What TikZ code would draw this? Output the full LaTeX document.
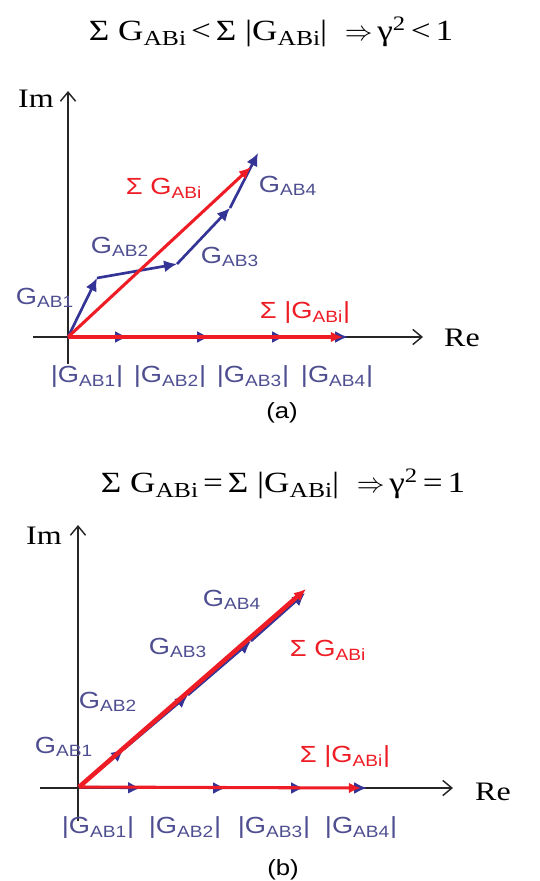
\documentclass[tikz,border=0pt]{standalone}
\usepackage{fontspec}
\setmainfont[FakeStretch=1.2]{Liberation Serif}
\setsansfont[FakeStretch=1.17]{Liberation Sans}
\usetikzlibrary{arrows.meta}
\usetikzlibrary{positioning}

\definecolor{vecblue}{RGB}{52,52,150}
\definecolor{txtblue}{RGB}{78,78,145}
\definecolor{vecred}{RGB}{238,28,36}

\newcommand{\gab}[1]{G\textsubscript{AB#1}}
\newcommand{\eqsub}[1]{\raisebox{-0.35ex}{\fontsize{16}{18}\selectfont #1}}

\tikzset{
  axis/.style={draw=black!85, line width=1.1pt, -{Straight Barb[length=2.4mm,width=4mm]}},
  bluevec/.style={draw=vecblue, line width=2pt, -{Latex[length=3.4mm,width=3.2mm]}},
  redvec/.style={draw=vecred, line width=2.3pt, -{Latex[length=3.2mm,width=2.8mm]}},
  bluelbl/.style={text=txtblue, font=\sffamily\fontsize{17.5}{20}\selectfont, inner sep=0pt},
  redlbl/.style={text=vecred, font=\sffamily\fontsize{17.5}{20}\selectfont, inner sep=0pt},
  axlbl/.style={font=\fontsize{20}{24}\selectfont, inner sep=0pt},
  eqn/.style={font=\fontsize{22}{26}\selectfont, inner sep=0pt},
  capt/.style={font=\sffamily\fontsize{16.5}{19}\selectfont, inner sep=0pt},
}

\begin{document}
\begin{tikzpicture}[x=0.75pt,y=-0.75pt]
\useasboundingbox (0,0) rectangle (539,881);

% ---- (a) ----
\node[eqn] (eqa) at (271,32) {Σ G\eqsub{ABi}\,<\,Σ |G\eqsub{ABi}|~~$\Rightarrow$\,γ\textsuperscript{2}\,<\,1};

\begin{scope}
    \coordinate (oa) at (68,337);
    \coordinate (xa0) at (33,337);
    \coordinate (xa1) at (423,337);
    \coordinate (ya0) at (68,364);
    \coordinate (ya1) at (68,91);
    \coordinate (pa1) at (97,278);
    \coordinate (pa2) at (177,264);
    \coordinate (pa3) at (230,208);
    \coordinate (pa4) at (258,153);
    \coordinate (sa) at (251,167);
    \coordinate (ha1) at (128,337);
    \coordinate (ha2) at (210,337);
    \coordinate (ha3) at (285,337);
    \coordinate (ha4) at (348,337);
    \coordinate (ta) at (343,337);
\end{scope}

\draw[axis] (xa0) -- (xa1);
\draw[axis] (ya0) -- (ya1);
\node[axlbl] (ima) at (36,99) {Im};
\node[axlbl] (rea) at (462,338) {Re};

\foreach \u/\v in {oa/ha1, ha1/ha2, ha2/ha3, ha3/ha4, oa/pa1, pa1/pa2, pa2/pa3, pa3/pa4}
    \path (\u) edge[bluevec] (\v);
\foreach \u/\v in {oa/sa, oa/ta}
    \path (\u) edge[redvec] (\v);

\begin{scope}[every node/.style={bluelbl}]
    \node (ga1) at (45,298) {\gab{1}};
    \node (ga2) at (120,247) {\gab{2}};
    \node (ga3) at (230,257) {\gab{3}};
    \node (ga4) at (288,186) {\gab{4}};
    \node (ma1) at (87,377) {|\gab{1}|};
    \node (ma2) at (170,377) {|\gab{2}|};
    \node (ma3) at (253,377) {|\gab{3}|};
    \node (ma4) at (337,377) {|\gab{4}|};
\end{scope}
\node[redlbl] (suma) at (164,188) {Σ G\textsubscript{ABi}};
\node[redlbl] (absa) at (305,313) {Σ |G\textsubscript{ABi}|};
\node[capt] (capa) at (282,413) {(a)};

% ---- (b) ----
\node[eqn] (eqb) at (283,484) {Σ G\eqsub{ABi}\,=\,Σ |G\eqsub{ABi}|~~$\Rightarrow$\,γ\textsuperscript{2}\,=\,1};

\begin{scope}
    \coordinate (ob) at (79,787);
    \coordinate (xb0) at (40,788);
    \coordinate (xb1) at (453,788);
    \coordinate (yb0) at (78,821);
    \coordinate (yb1) at (78,525);
    \coordinate (pb1) at (124,749);
    \coordinate (pb2) at (188,695);
    \coordinate (pb3) at (251,641);
    \coordinate (pb4) at (305,593);
    \coordinate (sb) at (306,589);
    \coordinate (hb1) at (141,788);
    \coordinate (hb2) at (226,788);
    \coordinate (hb3) at (304,788);
    \coordinate (hb4) at (367,788);
    \coordinate (tb) at (361,788);
\end{scope}

\draw[axis] (xb0) -- (xb1);
\draw[axis] (yb0) -- (yb1);
\node[axlbl] (imb) at (44,536) {Im};
\node[axlbl] (reb) at (493,792) {Re};

\foreach \u/\v in {ob/hb1, hb1/hb2, hb2/hb3, hb3/hb4, ob/pb1, pb1/pb2, pb2/pb3, pb3/pb4}
    \path (\u) edge[bluevec] (\v);
\path (ob) edge[redvec, line width=3.4pt] (sb);
\path (ob) edge[redvec] (tb);

\begin{scope}[every node/.style={bluelbl}]
    \node (gb1) at (64,747) {\gab{1}};
    \node (gb2) at (108,702) {\gab{2}};
    \node (gb3) at (178,648) {\gab{3}};
    \node (gb4) at (232,600) {\gab{4}};
    \node (mb1) at (98,828) {|\gab{1}|};
    \node (mb2) at (185,828) {|\gab{2}|};
    \node (mb3) at (274,828) {|\gab{3}|};
    \node (mb4) at (361,828) {|\gab{4}|};
\end{scope}
\node[redlbl] (sumb) at (328,650) {Σ G\textsubscript{ABi}};
\node[redlbl] (absb) at (345,757) {Σ |G\textsubscript{ABi}|};
\node[capt] (capb) at (283,870) {(b)};
\end{tikzpicture}
\end{document}
